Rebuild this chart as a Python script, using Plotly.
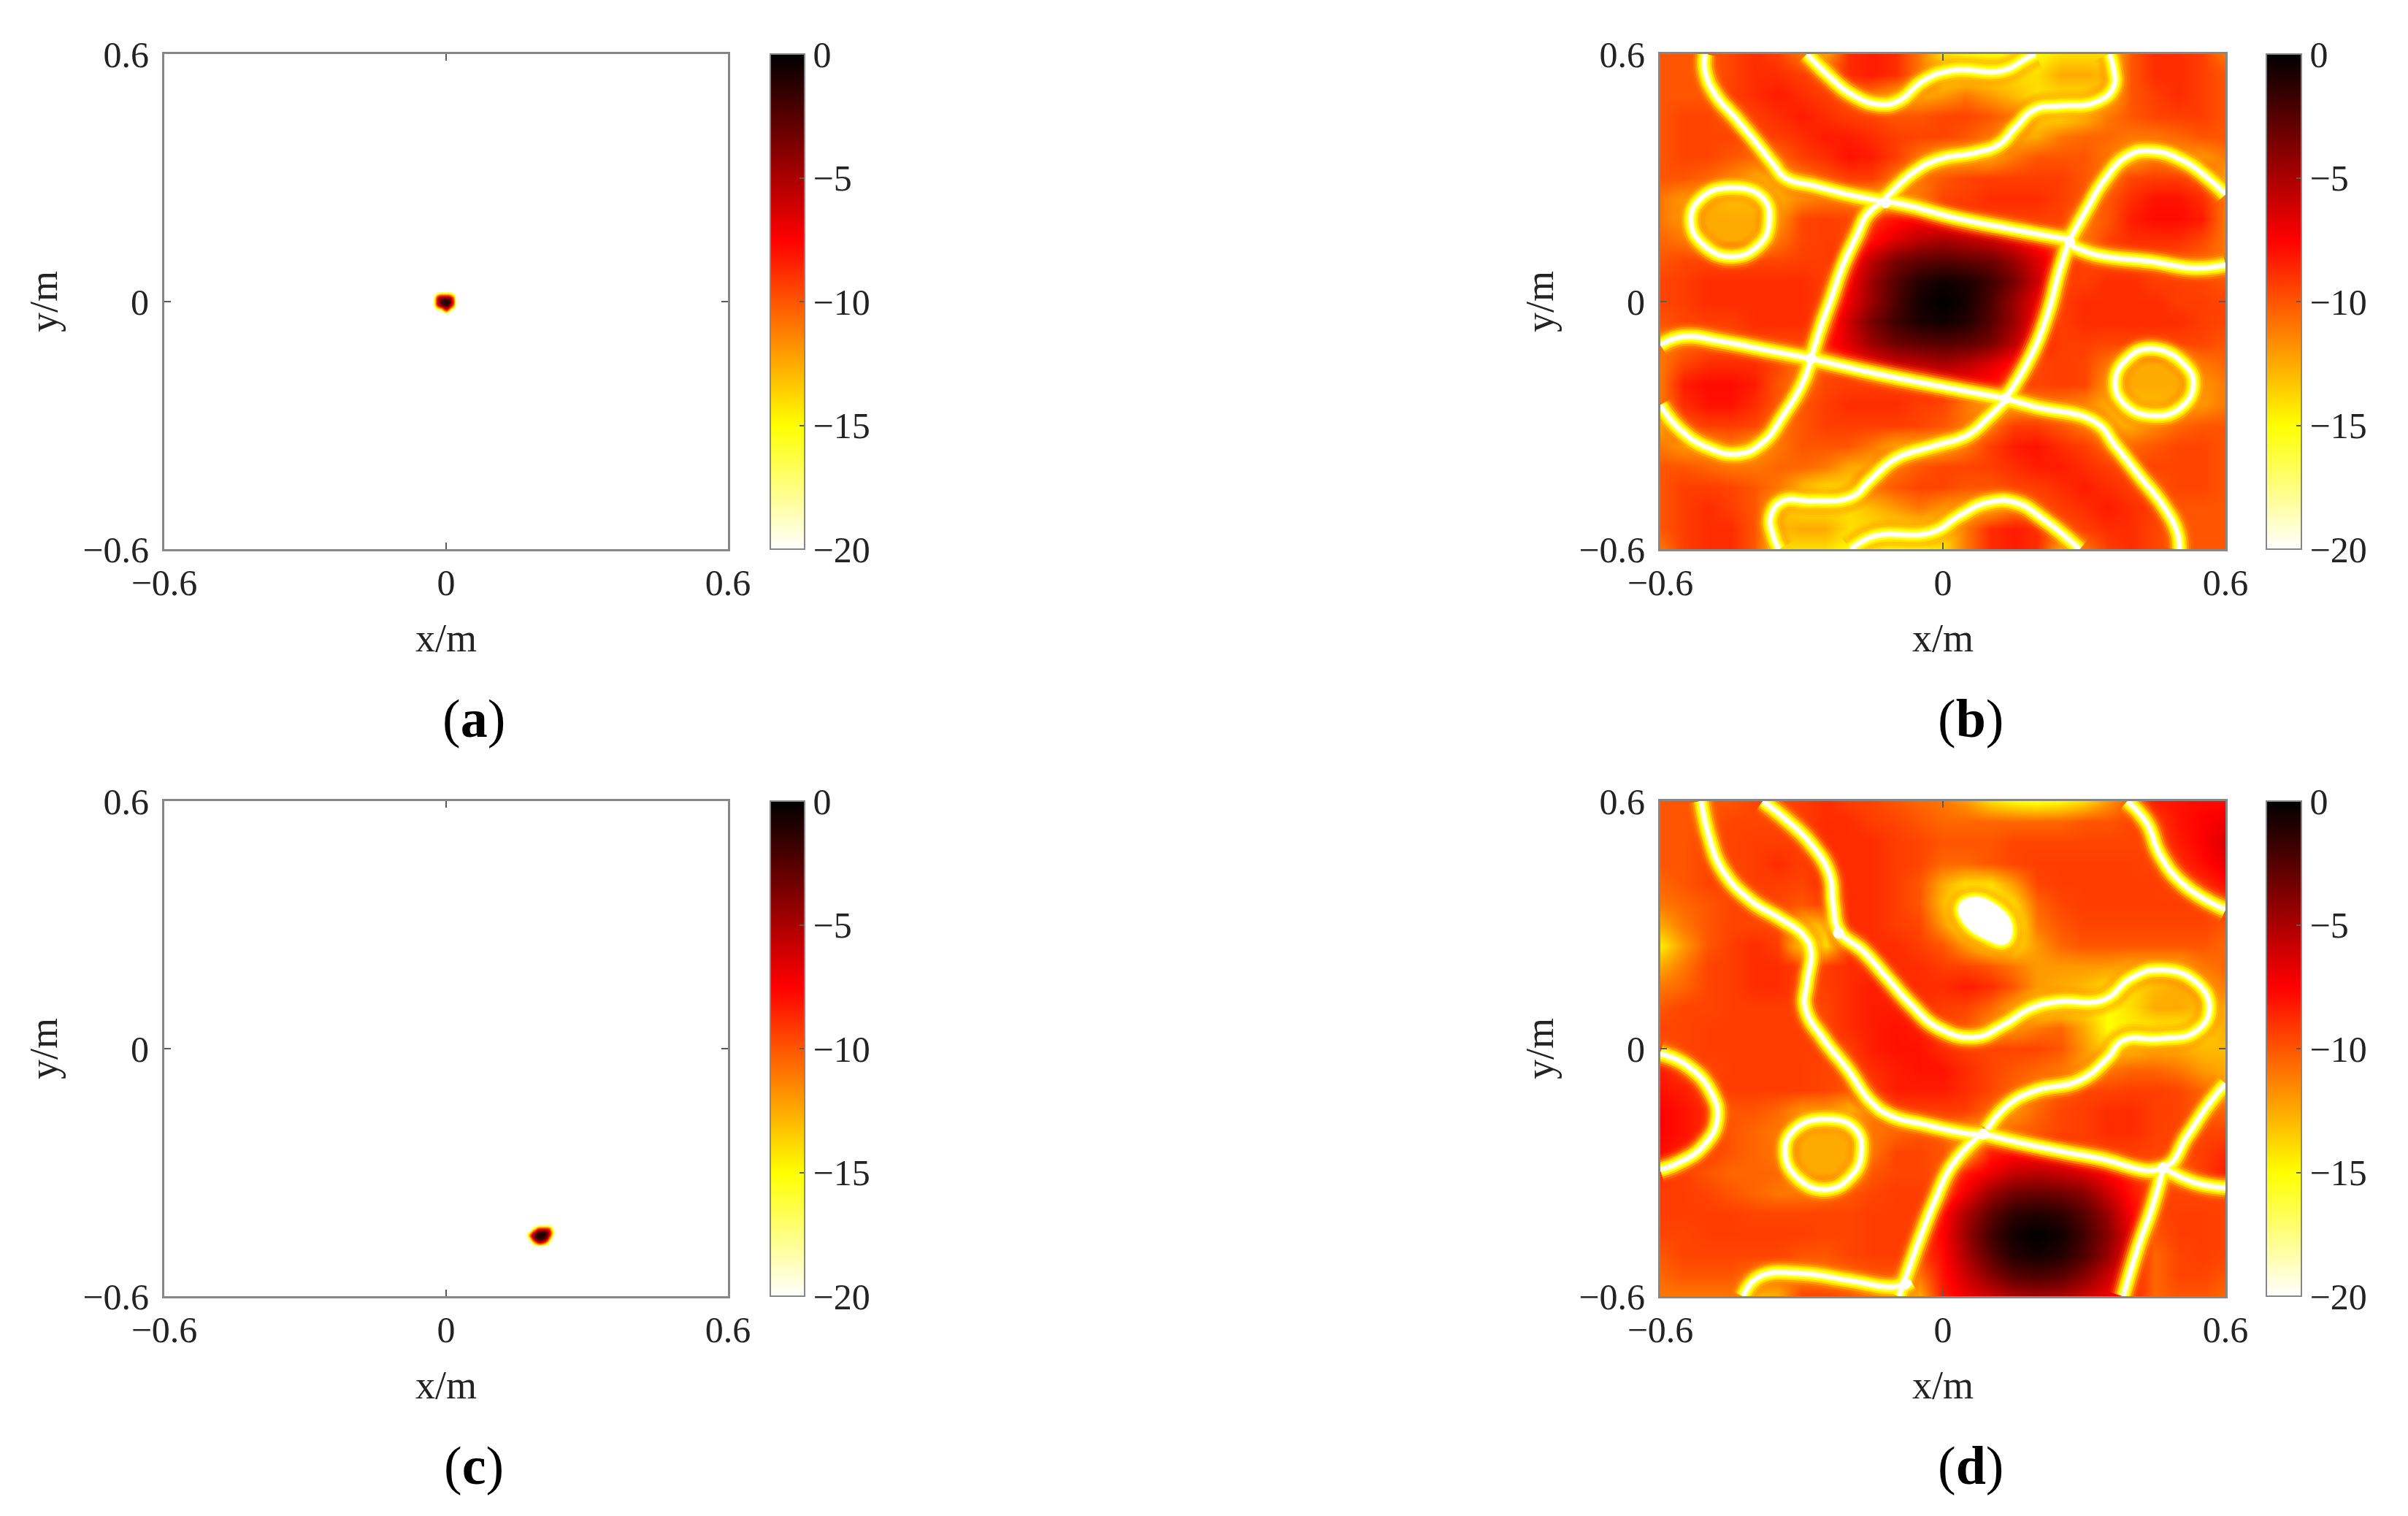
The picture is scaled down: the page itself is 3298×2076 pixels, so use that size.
import plotly.graph_objects as go

# Heatmap grids hold the lobe levels (dB); the narrow null
# ridges are too thin for a hand-read grid, so they are read as curves in metres.
GRID = [-0.6, -0.55, -0.5, -0.45, -0.4, -0.35, -0.3, -0.25, -0.2, -0.15, -0.1, -0.05, 0,
        0.05, 0.1, 0.15, 0.2, 0.25, 0.3, 0.35, 0.4, 0.45, 0.5, 0.55, 0.6]
GRID_DOWN = GRID[::-1]

Z_B = [
 [-10,-10,-10,-9.5,-8.8,-9.3,-11,-12.5,-8.8,-8.3,-8.8,-11,-14,-15,-15,-15,-15,-14,-14,-14,-10,-8.8,-8.8,-9.3,-11],
 [-10,-10,-10,-9.5,-8.8,-8.8,-9.3,-10,-8.8,-8.3,-8.8,-11,-14,-14,-14,-14,-14,-12.5,-12.5,-13,-10,-8.8,-8.8,-9.3,-10],
 [-10,-10,-10,-9.3,-8.8,-8.3,-8.8,-9.3,-10,-11,-12.5,-12.5,-12,-11,-12,-13,-14,-14,-14,-13,-10,-9.3,-8.8,-9.3,-10],
 [-10,-9.5,-9.5,-10,-9.3,-8.8,-8.3,-8.8,-9.3,-9.5,-10,-10,-9.5,-9.5,-10,-11,-13.5,-14,-13,-11,-10,-9.5,-9.3,-9.3,-10],
 [-10,-9.5,-9.5,-9.5,-9.5,-9.3,-8.8,-8.3,-8.3,-8.8,-9.3,-9.5,-9.5,-10,-11,-12.5,-12.5,-11,-10.5,-10.5,-11,-11,-10.5,-10,-10],
 [-10,-9.5,-9.5,-10,-10.5,-10.5,-9.3,-8.8,-8,-8.3,-9.3,-11,-12.5,-12.5,-12.5,-11,-10,-10,-10,-11,-12.5,-11,-12,-12,-11],
 [-10,-10,-10.5,-11.5,-12.5,-12.5,-11,-10,-9.3,-9.3,-11,-11,-10,-9.5,-9.3,-9.3,-9.3,-9.3,-10,-11,-9.5,-9.3,-9.3,-10,-12.5],
 [-11,-12,-12.5,-13,-13,-12.5,-11.5,-11,-11,-12.5,-12.5,-11,-9.5,-9.3,-8.8,-8.8,-8.8,-9.3,-10,-10,-8.8,-8,-8,-8.8,-11],
 [-11,-12,-12.5,-12.5,-12.5,-12,-9.5,-9.3,-9.5,-9,-8,-7.5,-8,-8.8,-9.3,-9.3,-9.3,-9.5,-11,-10,-8.3,-7.8,-7.8,-8.3,-11],
 [-10.5,-11,-12.5,-12.5,-12.5,-11,-9.5,-9.3,-9.5,-8,-6.5,-5.5,-5,-5.5,-6,-7,-8,-10,-11,-9.5,-8.8,-8.8,-8.8,-9.5,-11],
 [-10,-9.5,-9.5,-9.5,-9.5,-9.5,-9.3,-9.3,-8.3,-5.5,-3.5,-2.8,-2.5,-2.8,-3.2,-4.5,-6.5,-8.3,-9.5,-9.5,-9.5,-9.5,-10,-10.5,-11],
 [-9.5,-9.3,-8.8,-8.8,-8.8,-8.8,-8.8,-9.3,-7.5,-4.5,-2.5,-1,-0.5,-0.8,-1.8,-3.5,-6,-9.3,-9.3,-8.8,-8.8,-9.3,-9.3,-9.5,-10],
 [-9.5,-9.3,-8.8,-8.8,-8.8,-8.8,-8.8,-9.3,-7,-4.5,-2.2,-0.6,0,-0.6,-2.2,-4.5,-7,-9.3,-8.8,-8.8,-8.8,-8.8,-9.3,-9.3,-9.5],
 [-10,-9.5,-9.3,-9.3,-8.8,-8.8,-8.8,-9.3,-6,-3.5,-1.8,-0.8,-0.5,-1,-2.5,-4.5,-7.5,-9.3,-8.8,-8.8,-8.8,-8.8,-8.8,-9.3,-9.5],
 [-11,-10.5,-10,-9.5,-9.5,-9.5,-9.5,-8.3,-6.5,-4.5,-3.2,-2.8,-2.5,-2.8,-3.5,-5.5,-8.3,-9.3,-9.3,-9.5,-9.5,-9.5,-9.5,-9.5,-10],
 [-11,-9.5,-8.8,-8.8,-8.8,-9.5,-11,-10,-8,-7,-6,-5.5,-5,-5.5,-6.5,-8,-9.5,-9.3,-9.5,-11,-12.5,-12.5,-12.5,-11,-10.5],
 [-11,-8.3,-7.8,-7.8,-8.3,-10,-11,-9.5,-9.3,-9.3,-9.3,-8.8,-8,-7.5,-8,-9,-9.5,-9.3,-9.5,-12,-12.5,-12.5,-12.5,-12,-11],
 [-11,-8.8,-8,-8,-8.8,-10,-10,-9.3,-8.8,-8.8,-8.8,-9.3,-9.5,-11,-12.5,-12.5,-11,-11,-11.5,-12.5,-13,-13,-12.5,-12,-11],
 [-12.5,-10,-9.3,-9.3,-9.5,-11,-10,-9.3,-9.3,-9.3,-9.3,-9.5,-10,-11,-11,-9.3,-9.3,-10,-11,-12.5,-12.5,-11.5,-10.5,-10,-10],
 [-11,-12,-12,-11,-12.5,-11,-10,-10,-10,-11,-12.5,-12.5,-12.5,-11,-9.3,-8.3,-8,-8.8,-9.3,-10.5,-10.5,-10,-9.5,-9.5,-10],
 [-10,-10,-10.5,-11,-11,-10.5,-10.5,-11,-12.5,-12.5,-11,-10,-9.5,-9.5,-9.3,-8.8,-8.3,-8.3,-8.8,-9.3,-9.5,-9.5,-9.5,-9.5,-10],
 [-10,-9.3,-9.3,-9.5,-10,-11,-13,-14,-13.5,-11,-10,-9.5,-9.5,-10,-10,-9.5,-9.3,-8.8,-8.3,-8.8,-9.3,-10,-9.5,-9.5,-10],
 [-10,-9.3,-8.8,-9.3,-10,-13,-14,-14,-14,-13,-12,-11,-12,-12.5,-12.5,-11,-10,-9.3,-8.8,-8.3,-8.8,-9.3,-10,-10,-10],
 [-10,-9.3,-8.8,-8.8,-10,-13,-12.5,-12.5,-14,-14,-14,-14,-14,-11,-8.8,-8.3,-8.8,-10,-9.3,-8.8,-8.8,-9.5,-10,-10,-10],
 [-11,-9.3,-8.8,-8.8,-10,-14,-14,-14,-15,-15,-15,-15,-14,-11,-8.8,-8.3,-8.8,-12.5,-11,-9.3,-8.8,-9.5,-10,-10,-10],
]

Z_D = [
 [-10,-10,-10,-10,-9.5,-9.5,-9.3,-8.8,-9.3,-9.5,-10,-10.5,-11,-12,-14,-15,-15.5,-15,-14,-12,-10,-8.3,-8,-7.8,-7.8],
 [-10,-10,-10,-9.5,-9.5,-9.5,-9.3,-8.8,-8.8,-9.3,-9.5,-10,-10.5,-10.5,-10.5,-10.5,-10.5,-10.5,-10,-10,-9.5,-9.3,-8,-7.5,-7],
 [-10,-10,-9.5,-9.5,-9.3,-9.3,-9.3,-8.8,-8.8,-8.8,-9.3,-9.5,-10,-10,-10,-9.5,-9.5,-9.5,-9.5,-9.5,-9.5,-9.5,-8.3,-7.5,-6.5],
 [-10,-10,-9.5,-9.5,-9.3,-8.8,-9.3,-8.8,-8.8,-8.8,-9.3,-9.5,-10.5,-10.5,-10,-9.5,-9.3,-9.3,-9.3,-9.3,-9.3,-9.5,-8.8,-7.8,-7],
 [-10.5,-10,-9.5,-9.5,-9.3,-9.3,-9.5,-8.8,-8.8,-8.8,-9.3,-10,-12.5,-14,-14,-12,-9.5,-9.3,-9.3,-9.3,-9.3,-9.3,-9.5,-8.8,-7.8],
 [-11,-10.5,-10,-9.5,-9.5,-9.5,-10,-9.3,-8.8,-8.8,-9.3,-10,-13,-15.5,-15.5,-14,-10.5,-9.5,-9.3,-9.3,-9.3,-9.3,-9.3,-9.3,-9.5],
 [-12.5,-11,-10,-9.5,-9.5,-9.5,-13,-13,-8.8,-8.8,-9.3,-9.5,-12,-15,-16,-15.5,-11,-10,-9.5,-9.5,-9.5,-9.5,-9.5,-9.5,-10],
 [-14.5,-12,-10,-9.3,-8.8,-9.3,-14,-14,-9.3,-8.8,-8.8,-9.3,-10,-12,-14,-14,-12,-10.5,-10,-10,-10,-10,-10,-10,-10.5],
 [-12.5,-11,-9.5,-9.3,-8.8,-8.8,-9.3,-9.3,-8.8,-8.8,-8.8,-8.8,-9.3,-9.5,-10,-11,-12,-12,-12,-12,-12.5,-12.5,-12.5,-11,-10.5],
 [-11,-10.5,-9.5,-9.3,-8.8,-8.8,-9.3,-9.3,-8.8,-8.3,-8.8,-8.8,-8.8,-8.3,-8.8,-10,-12,-12.5,-13,-14,-14,-13,-12.5,-12.5,-11],
 [-10,-9.5,-9.5,-9.3,-9.3,-9.3,-9.3,-9.5,-8.8,-8.3,-8.3,-8.8,-9.3,-9.5,-10.5,-12.5,-14.5,-14,-14,-15,-14,-12.5,-12.5,-13,-12.5],
 [-9.5,-9.5,-9.3,-9.3,-9.3,-9.3,-9.3,-9.5,-8.8,-8.3,-8,-8.3,-9.3,-10,-12,-12,-11,-10.5,-12.5,-15,-14.5,-14.5,-14.5,-14,-12.5],
 [-10,-9.5,-9.3,-9.3,-9.3,-9.3,-9.3,-9.3,-9.3,-8.3,-8,-8,-8.8,-9.3,-9.5,-9.5,-9.5,-10,-12,-14,-13,-12.5,-12.5,-13,-13],
 [-8.3,-9.3,-9.5,-9.3,-9.3,-9.3,-9.3,-9.5,-9.5,-8.8,-8.3,-8,-8,-8.8,-9.5,-10,-10.5,-11,-12,-11,-10.5,-10.5,-11,-12,-12.5],
 [-8,-8.3,-9.3,-9.3,-9.3,-9.3,-9.3,-9.5,-10,-9.3,-8.3,-8.3,-8.3,-8.8,-9.5,-10.5,-11,-10,-9.5,-9.5,-9.3,-9.3,-9.5,-10.5,-12],
 [-7.5,-8,-8.8,-10,-10,-10.5,-12,-12,-13,-11,-9.5,-9.3,-9.3,-9.3,-10.5,-12,-10.5,-9.5,-9.3,-8.8,-8.8,-9.3,-9.5,-10,-10.5],
 [-7.5,-8,-8.8,-10,-10.5,-11,-12.5,-12.5,-12.5,-11,-10.5,-10,-10,-12,-12.5,-10.5,-10,-9.5,-9.3,-8.8,-8.8,-9.3,-9.5,-9.5,-9.5],
 [-7.8,-8.3,-9.3,-10,-10.5,-11,-12.5,-12.5,-12.5,-11,-9.5,-9.5,-10,-12.5,-8.5,-8,-8,-8.3,-9.3,-9.3,-9.3,-9.5,-9.5,-9.3,-8.8],
 [-8.8,-9.3,-10,-10.5,-10.5,-10.5,-12.5,-12.5,-12.5,-10,-9.5,-9.5,-10,-8.3,-7,-5.8,-5.5,-5.8,-6.5,-7.5,-8.5,-10,-10.5,-9.3,-8.3],
 [-9.3,-9.3,-9.5,-10,-10.5,-11,-11,-10.5,-10,-9.5,-9.3,-9.3,-9.5,-7,-4.5,-3.3,-3,-3.3,-4,-6,-8,-9.5,-9.5,-9.5,-9.5],
 [-9.3,-9.3,-9.3,-9.3,-9.5,-9.5,-9.5,-9.5,-9.5,-9.3,-9.3,-9.3,-7.8,-5,-2.8,-1.3,-1,-1.3,-2.6,-4.5,-7.5,-9.5,-9.3,-9.3,-9.5],
 [-9.5,-9.5,-9.3,-9.3,-9.3,-9.3,-9.3,-9.5,-9.5,-9.3,-9.3,-9.3,-7.5,-4.5,-2,-0.5,0,-0.5,-2,-4,-7,-10,-9.3,-9.3,-9.5],
 [-10,-9.5,-9.5,-9.5,-9.5,-9.5,-10,-10,-9.5,-9.3,-9.3,-9.5,-7.8,-5,-2.6,-1,-0.6,-1,-2.3,-4.5,-7.5,-10.5,-9.5,-9.3,-9.5],
 [-10.5,-10,-10,-10,-11,-11,-11,-11,-10.5,-10,-10,-11,-8,-6,-4,-2.6,-2.2,-2.6,-4,-6,-8,-10.5,-9.5,-9.5,-10],
 [-11,-11,-11,-11,-13,-12.5,-9.5,-9.5,-10,-11,-12.5,-12.5,-8.3,-7,-6,-5,-4.8,-5,-6,-7,-8.5,-10.5,-10,-10,-10.5],
]

# Null ridges of panel (b), metres; None separates the curves.
B_NULL_X = [
 -.505,-.505,-.484,-.441,-.399,-.360,-.335,-.271,-.203,-.127, None,
 -.127,-.110,-.059,-.008,.069,.120,.154,.196,.247,.324,.362,.362,.354, None,
 -.288,-.246,-.195,-.135,-.093,-.042,.018,.128,.175,.196, None,
 -.450,-.382,-.369,-.390,-.445,-.505,-.535,-.513,-.450, None,
 -.127,-.161,-.182,-.212,-.237,-.258,-.280, None,
 -.118,-.067,.026,.154,.269, None,
 .269,.247,.222,.184,.133, None,
 -.280,-.144,-.016,.133, None,
 .133,.196,.324,.366,.417,.468,.498,.502, None,
 .269,.307,.341,.392,.443,.511,.570,.600, None,
 .269,.324,.443,.536,.600, None,
 -.600,-.552,-.467,-.373,-.280, None,
 -.280,-.297,-.339,-.382,-.433,-.501,-.560,-.600, None,
 .133,.094,.052,-.016,-.101,-.152,-.195,-.280,-.339,-.365,-.360,-.348, None,
 -.195,-.144,-.025,.035,.094,.154,.213,.290, None,
 .443,.511,.532,.502,.443,.388,.366,.392,.443,
]
B_NULL_Y = [
 .600,.560,.503,.446,.389,.333,.300,.280,.260,.243, None,
 .243,.264,.316,.345,.361,.381,.422,.466,.474,.483,.519,.568,.600, None,
 .600,.551,.503,.478,.487,.535,.560,.560,.588,.600, None,
 .276,.251,.191,.138,.109,.134,.195,.251,.276, None,
 .243,.211,.162,.089,.008,-.057,-.138, None,
 .243,.231,.203,.174,.150, None,
 .150,.073,-.032,-.138,-.235, None,
 -.138,-.174,-.203,-.235, None,
 -.235,-.255,-.292,-.349,-.422,-.495,-.560,-.600, None,
 .150,.227,.292,.353,.365,.341,.292,.260, None,
 .138,.114,.097,.081,.089, None,
 -.105,-.085,-.097,-.118,-.138, None,
 -.138,-.195,-.276,-.341,-.369,-.353,-.308,-.251, None,
 -.239,-.284,-.324,-.349,-.381,-.430,-.474,-.483,-.483,-.519,-.568,-.600, None,
 -.600,-.568,-.560,-.519,-.487,-.487,-.527,-.600, None,
 -.114,-.150,-.203,-.260,-.276,-.251,-.195,-.138,-.114,
]
B_CROSS_X = [-.122, .269, -.280, .133]
B_CROSS_Y = [.240, .145, -.138, -.235]

# Null ridges of panel (d), metres.
D_NULL_X = [
 -.513,-.496,-.467,-.407,-.348,-.297,-.280,-.288,-.292,-.254,-.203,-.152,-.110,-.042,.060,.086, None,
 -.382,-.331,-.280,-.241,-.233,-.220,-.169,-.118,-.067,-.008,.069,.128,.188,.247,.341,.400,.460,.536,.566,.536,.460,.383,.349,.290,.196,.137,.094, None,
 -.600,-.543,-.492,-.479,-.509,-.560,-.600, None,
 -.246,-.186,-.173,-.195,-.246,-.305,-.335,-.314,-.246, None,
 .086,.196,.324,.468,.519,.562,.600, None,
 .468,.536,.600, None,
 .468,.443,.417,.383, None,
 .077,.018,-.016,-.050,-.076,-.093, None,
 -.424,-.390,-.297,-.203,-.101,-.067, None,
 .392,.434,.460,.511,.600, None,
 .065,.107,.141,.133,.090,.048,.039,.065,
]
D_NULL_Y = [
 .600,.512,.431,.358,.317,.276,.236,.163,.098,.024,-.049,-.130,-.163,-.183,-.207,-.207, None,
 .600,.553,.496,.423,.350,.285,.236,.171,.106,.049,.028,.057,.098,.114,.118,.171,.191,.163,.098,.041,.024,.020,-.024,-.077,-.102,-.138,-.195, None,
 -.012,-.041,-.106,-.171,-.236,-.276,-.293, None,
 -.171,-.195,-.252,-.309,-.341,-.317,-.252,-.195,-.171, None,
 -.207,-.236,-.264,-.289,-.211,-.138,-.085, None,
 -.289,-.325,-.337, None,
 -.289,-.390,-.472,-.600, None,
 -.211,-.285,-.366,-.463,-.545,-.600, None,
 -.600,-.553,-.545,-.561,-.577,-.565, None,
 .600,.545,.472,.398,.337, None,
 .362,.346,.301,.260,.272,.309,.346,.362,
]
D_SPOT_X = [.065,.107,.141,.133,.090,.048,.039,.065]
D_SPOT_Y = [.362,.346,.301,.260,.272,.309,.346,.362]
D_CROSS_X = [.086, .468, -.080, -.222]
D_CROSS_Y = [-.207, -.289, -.570, .280]

# Focal spots of panels (a) and (c).
A_X = [-.03,-.025,-.02,-.015,-.01,-.005,0,.005,.01,.015,.02]
A_Y = [.02,.015,.01,.005,0,-.005,-.01,-.015,-.02,-.025,-.03]
Z_A = [
 [-20,-20,-19,-17,-16,-16,-16,-16,-17,-19,-20],
 [-20,-19,-13,-10,-9,-9,-9,-9,-11,-15,-20],
 [-20,-16,-9,-5,-4,-4,-4,-4,-6,-11,-19],
 [-20,-15,-8,-4,-3,-2,-1,-2,-4,-10,-18],
 [-20,-15,-8,-3,-2,-1,0,-1,-3,-9,-18],
 [-20,-15,-8,-4,-3,-2,-1,-2,-4,-10,-18],
 [-20,-16,-10,-6,-4,-3,-2,-3,-6,-12,-19],
 [-20,-19,-15,-12,-10,-6,-4,-6,-11,-16,-20],
 [-20,-20,-19,-18,-17,-10,-8,-11,-17,-20,-20],
 [-20,-20,-20,-20,-20,-18,-14,-18,-20,-20,-20],
 [-20,-20,-20,-20,-20,-20,-20,-20,-20,-20,-20],
]
C_X = [.165,.17,.175,.18,.185,.19,.195,.2,.205,.21,.215,.22,.225,.23,.235]
C_Y = [-.425,-.43,-.435,-.44,-.445,-.45,-.455,-.46,-.465,-.47,-.475,-.48]
Z_C = [
 [-20,-20,-20,-20,-20,-20,-20,-20,-20,-20,-20,-20,-20,-20,-20],
 [-20,-20,-20,-20,-20,-19,-17,-16,-16,-16,-16,-17,-19,-20,-20],
 [-20,-20,-20,-20,-18,-14,-10,-9,-9,-9,-9,-11,-16,-20,-20],
 [-20,-20,-20,-18,-13,-8,-5,-4,-4,-4,-5,-8,-14,-19,-20],
 [-20,-20,-18,-13,-8,-4,-2,-1.5,-1.5,-2,-3,-6,-12,-18,-20],
 [-20,-19,-15,-9,-5,-2,-1,0,-.5,-1.5,-3,-7,-13,-19,-20],
 [-20,-19,-15,-9,-4,-2,-1,-.5,-1,-2,-4,-9,-15,-20,-20],
 [-20,-20,-18,-13,-7,-3,-2,-1.5,-2,-3,-6,-12,-18,-20,-20],
 [-20,-20,-20,-17,-11,-6,-4,-3,-4,-6,-10,-16,-20,-20,-20],
 [-20,-20,-20,-20,-16,-11,-8,-7,-8,-11,-15,-19,-20,-20,-20],
 [-20,-20,-20,-20,-19,-17,-15,-14,-15,-17,-19,-20,-20,-20,-20],
 [-20,-20,-20,-20,-20,-20,-20,-20,-20,-20,-20,-20,-20,-20,-20],
]

AXIS_TICKS = [-0.6, 0, 0.6]
AXIS_LABELS = ["\u22120.6", "0", "0.6"]
CBAR_TICKS = [0, -5, -10, -15, -20]
CBAR_LABELS = ["0", "\u22125", "\u221210", "\u221215", "\u221220"]
PANEL_LABELS = ["a", "b", "c", "d"]

W, H = 3298, 2076
FONT = "Liberation Serif"
TEXT = "rgb(35,35,35)"
FRAME = "rgb(135,135,135)"
HOT = [[0, "#ffffff"], [0.25, "#ffff00"], [0.625, "#ff0000"], [1, "#000000"]]
GLOW = [(44, "rgba(255,110,0,0.08)"), (38, "rgba(255,130,0,0.15)"), (32, "rgba(255,160,0,0.28)"),
        (26, "rgba(255,200,0,0.45)"), (20, "rgba(255,240,0,0.70)"), (15, "rgb(255,255,0)"),
        (10, "rgb(255,255,100)"), (7, "rgb(255,255,190)"), (4, "#ffffff")]

COLS = [(225, 997, 1055, 1102), (2274, 3048, 3104, 3152)]
ROWS = [(74, 752), (1097, 1775)]

fig = go.Figure()
panels = [
 (0, 0, A_X, A_Y, Z_A, None, None, None, None),
 (1, 0, GRID, GRID_DOWN, Z_B, B_NULL_X, B_NULL_Y, B_CROSS_X, B_CROSS_Y),
 (0, 1, C_X, C_Y, Z_C, None, None, None, None),
 (1, 1, GRID, GRID_DOWN, Z_D, D_NULL_X, D_NULL_Y, D_CROSS_X, D_CROSS_Y),
]
for n, (c, r, xs, ys, z, nx, ny, cx, cy) in enumerate(panels, start=1):
    x0, x1, b0, b1 = COLS[c]
    top, bot = ROWS[r]
    suffix = "" if n == 1 else str(n)
    fig.add_trace(go.Heatmap(
        x=xs, y=ys, z=z, zmin=-20, zmax=0, zsmooth="best", colorscale=HOT,
        xaxis="x" + suffix, yaxis="y" + suffix, hoverinfo="skip",
        colorbar=dict(
            x=b0 / W, xanchor="left", xref="paper", y=1 - top / H, yanchor="top", yref="paper",
            len=(bot - top) / H, lenmode="fraction", thickness=b1 - b0, thicknessmode="pixels",
            xpad=0, ypad=0, outlinecolor=FRAME, outlinewidth=2,
            tickmode="array", tickvals=CBAR_TICKS, ticktext=CBAR_LABELS,
            ticks="inside", ticklen=8, tickwidth=2, tickcolor="rgb(90,90,90)",
            tickfont=dict(family=FONT, size=50, color=TEXT), ticklabelposition="outside",
        ),
    ))
    if nx:
        for width, colour in GLOW:
            fig.add_trace(go.Scatter(
                x=nx, y=ny, mode="lines", line=dict(color=colour, width=width, shape="spline", smoothing=1.3),
                xaxis="x" + suffix, yaxis="y" + suffix, showlegend=False, hoverinfo="skip",
                connectgaps=False,
            ))
        fig.add_trace(go.Scatter(
            x=cx, y=cy, mode="markers", marker=dict(color="#ffffff", size=15, line=dict(width=0)),
            xaxis="x" + suffix, yaxis="y" + suffix, showlegend=False, hoverinfo="skip",
        ))
    if n == 4:
        fig.add_trace(go.Scatter(
            x=D_SPOT_X, y=D_SPOT_Y, mode="lines", fill="toself", fillcolor="#ffffff",
            line=dict(color="#ffffff", width=6, shape="spline"),
            xaxis="x4", yaxis="y4", showlegend=False, hoverinfo="skip",
        ))
    common = dict(
        range=[-0.6, 0.6], tickmode="array", tickvals=AXIS_TICKS, ticktext=AXIS_LABELS,
        ticks="inside", ticklen=9, tickwidth=2, tickcolor="rgb(90,90,90)",
        showline=True, linecolor=FRAME, linewidth=3, mirror="ticks", showgrid=False, zeroline=False,
        tickfont=dict(family=FONT, size=50, color=TEXT),
    )
    fig.update_layout({
        "xaxis" + suffix: dict(common, domain=[x0 / W, x1 / W], anchor="y" + suffix,
                               title=dict(text="x/m", font=dict(family=FONT, size=54, color=TEXT), standoff=30)),
        "yaxis" + suffix: dict(common, domain=[1 - bot / H, 1 - top / H], anchor="x" + suffix,
                               ticklabelstandoff=8,
                               title=dict(text="y/m", font=dict(family=FONT, size=54, color=TEXT), standoff=18)),
    })
    fig.add_annotation(
        x=((x0 + x1) / 2 + 38) / W, y=1 - (bot + 232) / H, xref="paper", yref="paper",
        xanchor="center", yanchor="middle",
        text="(<b>%s</b>)" % PANEL_LABELS[n - 1], showarrow=False,
        font=dict(family=FONT, size=74, color="black"),
    )

fig.update_layout(width=W, height=H, margin=dict(l=0, r=0, t=0, b=0, autoexpand=False),
                  paper_bgcolor="white", plot_bgcolor="white", showlegend=False)
fig.write_html("out.html", post_script="document.body.style.margin='0';",
               config={"displayModeBar": False})
